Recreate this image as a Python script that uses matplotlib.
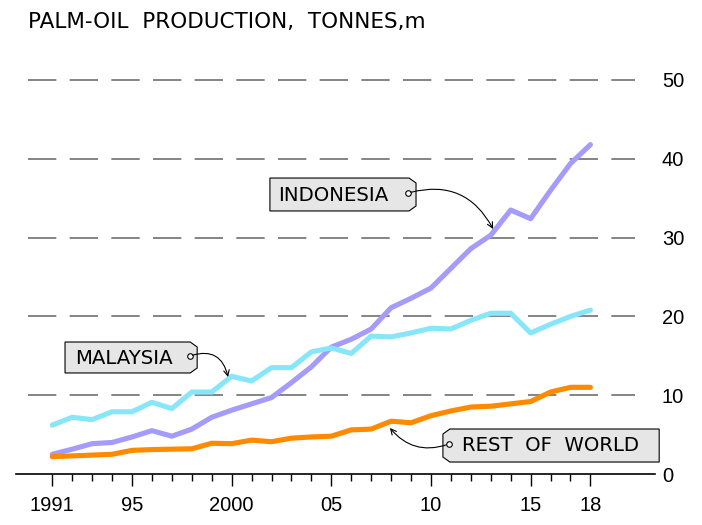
import numpy as np
import matplotlib.pyplot as plt
from matplotlib.patches import Polygon

# palm-oil production, tonnes m
years = np.arange(1991, 2019)
indonesia = [2.5, 3.15, 3.85, 4.0, 4.7, 5.5, 4.8, 5.7, 7.2, 8.1, 8.9, 9.7, 11.6, 13.6,
             16.1, 17.1, 18.4, 21.1, 22.3, 23.6, 26.1, 28.6, 30.3, 33.5, 32.4, 36.0, 39.4, 41.8]
malaysia = [6.2, 7.2, 6.9, 7.9, 7.9, 9.1, 8.3, 10.4, 10.4, 12.4, 11.8, 13.5, 13.5, 15.5,
            16.0, 15.3, 17.5, 17.4, 17.9, 18.5, 18.4, 19.5, 20.4, 20.4, 17.9, 19.0, 20.0, 20.8]
rest_of_world = [2.2, 2.3, 2.4, 2.5, 3.0, 3.1, 3.15, 3.2, 3.9, 3.85, 4.3, 4.1, 4.55, 4.7,
                 4.8, 5.6, 5.7, 6.7, 6.5, 7.4, 8.0, 8.5, 8.6, 8.9, 9.2, 10.4, 11.0, 11.0]

xtick_pos = [1991, 1995, 2000, 2005, 2010, 2015, 2018]
xtick_labels = ['1991', '95', '2000', '05', '10', '15', '18']
yticks = [0, 10, 20, 30, 40, 50]
title = 'PALM-OIL  PRODUCTION,  TONNES,m'

c_indo = '#a59bfa'
c_malay = '#87e6fa'
c_rest = '#ff8a00'
num_font = 'Liberation Sans'

fig = plt.figure(figsize=(7.02, 5.25), dpi=100)
ax = fig.add_axes([16/702, 51/525, 639/702, 52*7.88/525])
ax.set_xlim(1989.18, 2021.24)
ax.set_ylim(0, 52)

# dashed guide lines
ax.hlines(yticks[1:], 1989.78, 2020.24, color='#707070', lw=1.2,
          linestyle=(0, (17, 8)), zorder=1)

line_kw = dict(lw=3.7, solid_capstyle='round', solid_joinstyle='round')
ax.plot(years, indonesia, color=c_indo, zorder=3, **line_kw)
ax.plot(years, malaysia, color=c_malay, zorder=4, **line_kw)
ax.plot(years, rest_of_world, color=c_rest, zorder=5, **line_kw)

for s in ['top', 'left', 'right']:
    ax.spines[s].set_visible(False)
ax.spines['bottom'].set_linewidth(1.2)

ax.set_xticks(xtick_pos)
ax.set_xticklabels(xtick_labels, fontsize=14.5, family=num_font)
ax.set_xticks([y for y in years if y not in xtick_pos], minor=True)
ax.tick_params(axis='x', which='major', length=8.6, width=1, pad=7)
ax.tick_params(axis='x', which='minor', length=5, width=1)

ax.yaxis.tick_right()
ax.set_yticks(yticks)
ax.set_yticklabels([str(v) for v in yticks], fontsize=14.5, family=num_font)
ax.tick_params(axis='y', length=0, pad=5)

fig.text(28/702, 1 - 22/525, title, ha='left', va='center', fontsize=15.5)


def tag(x0, x1, y0, y1, side):
    cx, cy = 0.35, 0.63
    if side == 'right':
        pts = [(x0, y0), (x1 - cx, y0), (x1, y0 + cy), (x1, y1 - cy), (x1 - cx, y1), (x0, y1)]
    else:
        pts = [(x0 + cx, y0), (x1, y0), (x1, y1), (x0 + cx, y1), (x0, y1 - cy), (x0, y0 + cy)]
    ax.add_patch(Polygon(pts, closed=True, fc='#e6e6e6', ec='black', lw=0.8,
                         zorder=6, clip_on=False))


labels = [
    # text, box (x0, x1, y0, y1), chamfer side, text pos, ring pos, arrow tip, rad
    ('INDONESIA', (2001.92, 2009.25, 33.38, 37.56), 'right', (2002.32, 35.4),
     (2008.86, 35.66), (2013.12, 31.09), -0.4),
    ('MALAYSIA', (1991.64, 1998.27, 12.82, 16.75), 'right', (1992.14, 14.65),
     (1997.91, 14.97), (1999.82, 12.31), -0.55),
    ('REST  OF  WORLD', (2010.60, 2021.45, 1.52, 5.71), 'left', (2011.55, 3.6),
     (2010.90, 3.81), (2007.94, 5.84), -0.35),
]
for text, box, side, tpos, ring, tip, rad in labels:
    tag(*box, side)
    ax.text(tpos[0], tpos[1], text, ha='left', va='center', fontsize=14.2,
            zorder=7, clip_on=False)
    ax.plot(ring[0], ring[1], 'o', ms=4, mfc='white', mec='black', mew=0.8,
            zorder=8, clip_on=False)
    ax.annotate('', xy=tip, xytext=ring, zorder=8,
                arrowprops=dict(arrowstyle='->', color='black', lw=0.8,
                                shrinkA=2, shrinkB=0,
                                connectionstyle=f'arc3,rad={rad}'))

fig.savefig('out.png', dpi=100)
